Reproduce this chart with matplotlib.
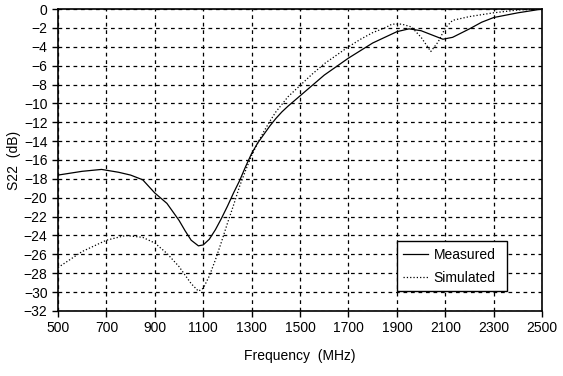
import matplotlib
matplotlib.use('Agg')
import matplotlib.pyplot as plt

plt.rcParams['font.family'] = ['Liberation Sans', 'DejaVu Sans']

# Measured S22
meas_f = [500, 550, 600, 680, 750, 800, 850, 900, 950, 1000, 1025, 1050, 1080,
          1100, 1125, 1150, 1175, 1200, 1225, 1250, 1275, 1300, 1325, 1350, 1375,
          1400, 1425, 1450, 1500, 1550, 1600, 1650, 1700, 1750, 1800, 1850,
          1900, 1950, 2000, 2050, 2090, 2130, 2200, 2250, 2300, 2400, 2500]
meas_db = [-17.6, -17.4, -17.2, -17.0, -17.3, -17.6, -18.1, -19.5, -20.6, -22.4,
           -23.5, -24.5, -25.1, -25.0, -24.4, -23.4, -22.2, -20.9, -19.5, -18.2,
           -16.7, -15.3, -14.2, -13.3, -12.4, -11.6, -10.9, -10.3, -9.2, -8.1,
           -7.0, -6.1, -5.2, -4.4, -3.6, -3.0, -2.4, -2.1, -2.3, -2.8, -3.2,
           -3.0, -2.1, -1.4, -0.9, -0.4, 0.0]

# Simulated S22
sim_f = [500, 600, 700, 780, 850, 900, 950, 1000, 1025, 1050, 1080, 1100, 1125,
         1150, 1175, 1200, 1225, 1250, 1275, 1300, 1325, 1350, 1375, 1400, 1425,
         1450, 1500, 1550, 1600, 1650, 1700, 1750, 1800, 1850, 1880, 1920, 1960,
         2000, 2040, 2070, 2100, 2130, 2200, 2300, 2400, 2500]
sim_db = [-27.4, -25.7, -24.5, -24.0, -24.2, -24.8, -25.9, -27.3, -28.2, -29.1,
          -29.9, -29.6, -28.3, -26.6, -24.7, -22.7, -20.8, -18.8, -17.1, -15.5,
          -14.2, -13.0, -11.9, -10.9, -10.1, -9.3, -8.1, -6.9, -5.8, -4.9, -4.0,
          -3.2, -2.5, -2.0, -1.6, -1.6, -1.9, -3.0, -4.5, -3.5, -2.0, -1.2,
          -0.8, -0.4, -0.1, 0.0]

xticks = list(range(500, 2501, 200))
yticks = list(range(-32, 1, 2))

fig = plt.figure(figsize=(5.63, 3.76), dpi=100)
ax = fig.add_axes([0.103, 0.173, 0.860, 0.803])

ax.plot(meas_f, meas_db, color='black', linestyle='-', linewidth=0.9, label='Measured')
ax.plot(sim_f, sim_db, color='black', linestyle=':', linewidth=0.9, label='Simulated')

ax.set_xlim(500, 2500)
ax.set_ylim(-32, 0)
ax.set_xticks(xticks)
ax.set_yticks(yticks)
ax.tick_params(direction='out', length=4, width=1, labelsize=10, colors='black')
ax.grid(True, color='black', linestyle=(0, (3, 3)), linewidth=0.9)
for s in ax.spines.values():
    s.set_linewidth(1.2)

ax.set_xlabel('Frequency  (MHz)', fontsize=10, labelpad=10)
ax.set_ylabel('S22  (dB)', fontsize=10, labelpad=2)

leg = ax.legend(loc='lower left', bbox_to_anchor=(0.70, 0.066, 0.228, 0.162),
                mode='expand', fancybox=False, edgecolor='black', framealpha=1,
                fontsize=10, handlelength=1.8, handletextpad=0.4,
                labelspacing=0.65, borderpad=0.45, borderaxespad=0)
leg.get_frame().set_linewidth(1.0)

fig.savefig('out.png', dpi=100)
